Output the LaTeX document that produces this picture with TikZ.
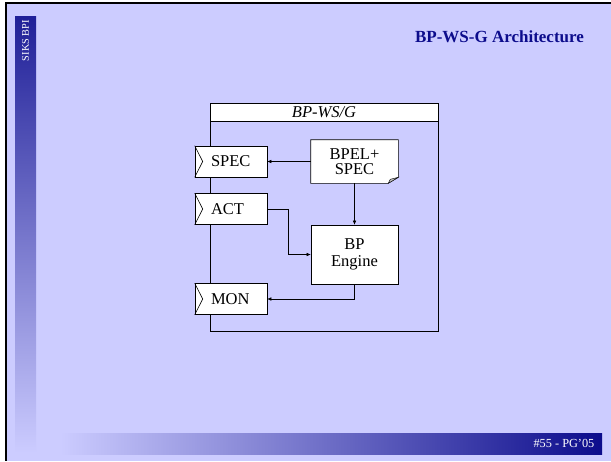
\documentclass[tikz,border=0pt]{standalone}
\usepackage{fontspec}
\setmainfont{Liberation Serif}
\usetikzlibrary{positioning,arrows.meta}

\definecolor{slidebg}{RGB}{204,204,255}
\definecolor{slidenavy}{RGB}{12,12,140}
\definecolor{foldgray}{RGB}{190,190,190}

\tikzset{
  boxfont/.style={font=\fontsize{16.5}{15}\selectfont},
  portbox/.style={draw, fill=white, boxfont, minimum height=31pt,
    text width=40pt, inner xsep=16pt, inner ysep=0pt, align=left},
  compbox/.style={draw, fill=white, boxfont, minimum width=87pt,
    inner sep=0pt, align=center},
  conn/.style={-{Latex[length=4pt,width=3.5pt]}, line width=0.5pt},
}

\begin{document}
\begin{tikzpicture}[x=1pt,y=-1pt,line width=0.6pt]
  \useasboundingbox (0,0) rectangle (611,461);
  \fill[white] (0,0) rectangle (611,461);
  \fill[slidebg] (5,2) rectangle (611,461);
  \fill[black] (5,2) rectangle (611,3.5);
  \fill[black] (5,2) rectangle (7,461);

  \shade[top color=slidenavy!90!slidebg, bottom color=slidebg] (15,16) rectangle (36,453);
  \shade[left color=slidebg, right color=slidenavy] (60,433) rectangle (602,454);

  \node[white, rotate=90, font=\fontsize{10.3}{12}\selectfont, anchor=east] (side) at (25.5,16.5) {SIKS BPI};
  \node[slidenavy, font=\fontsize{17}{20}\bfseries] (title) at (499.5,37) {BP-WS-G Architecture};
  \node[white, font=\fontsize{12.3}{14}\selectfont, anchor=east] (foot) at (598,443.5) {\#55 - PG’05};

  \node[draw, minimum width=228pt, minimum height=228pt, inner sep=0pt] (ws) at (324,217) {};
  \node[draw, fill=white, minimum width=228pt, minimum height=18.5pt, inner sep=0pt,
    anchor=north, boxfont] (wshead) at (ws.north) {\itshape BP-WS/G};

  \node[portbox] (spec) at (231,161.5) {SPEC};
  \node[portbox] (act) at (231,209) {ACT};
  \node[portbox] (mon) at (231,299) {MON};
  \foreach \p in {spec,act,mon}
    \draw (\p.north west) -- ([xshift=8pt]\p.west) -- (\p.south west);

  \node[minimum width=87pt, minimum height=43pt, inner sep=0pt] (bpel) at (354.5,161.5) {};
  \draw[fill=white] (bpel.north west) -- (bpel.north east) -- ([yshift=6pt]bpel.south east)
    -- ([xshift=-10pt]bpel.south east) -- (bpel.south west) -- cycle;
  \draw[fill=foldgray, line width=0.4pt] ([xshift=-10pt]bpel.south east) -- ([xshift=-8pt,yshift=4pt]bpel.south east)
    -- ([yshift=6pt]bpel.south east) -- cycle;
  \node[boxfont, align=center] (bpeltext) at (bpel) {BPEL+\\SPEC};

  \node[compbox, minimum height=59pt, font=\fontsize{16.5}{17}\selectfont] (engine) at (354.5,254.5) {BP\\Engine};

  \draw[conn] (bpel.west) -- (bpel.west -| spec.east);
  \draw[conn] (bpel.south) -- (engine.north);
  \draw[conn] (act.east) -- ++(21,0) |- (engine.west);
  \draw[conn] (engine.south) |- (mon.east);
\end{tikzpicture}
\end{document}
